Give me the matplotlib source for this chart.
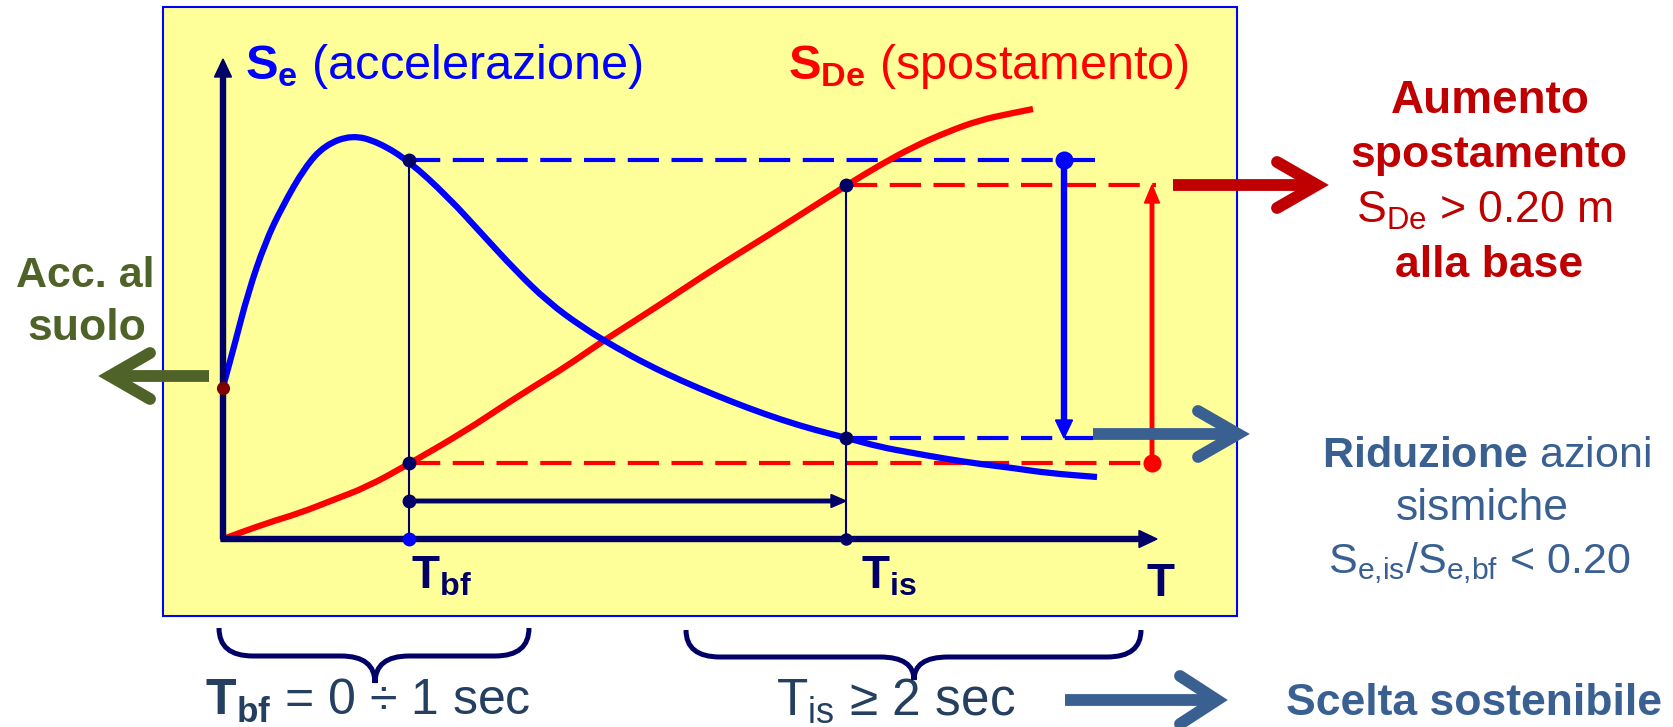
import matplotlib
matplotlib.use("Agg")
import matplotlib.pyplot as plt
from matplotlib.path import Path
from matplotlib.patches import PathPatch, Rectangle

plt.rcParams['font.family'] = 'Liberation Sans'
plt.rcParams['mathtext.fontset'] = 'custom'
plt.rcParams['mathtext.rm'] = 'Liberation Sans'
plt.rcParams['mathtext.bf'] = 'Liberation Sans:bold'
plt.rcParams['mathtext.it'] = 'Liberation Sans:italic'

# Spectra (pixel positions, y pointing down)
se_x = [223, 235, 248, 265, 282, 305, 325, 352, 378, 409, 448, 482, 515, 548,
        582, 615, 648, 682, 715, 748, 782, 815, 847, 880, 913, 947, 980, 1013,
        1047, 1097]
se_y = [387, 343, 293, 243, 207, 167, 145, 135, 142, 161, 197, 234, 270, 302,
        327, 347, 365, 381, 395, 408, 420, 430, 438, 447, 453, 459, 464, 468,
        473, 477]

sde_x = [223, 267, 300, 333, 367, 409, 467, 500, 533, 567, 600, 633, 667, 700,
         733, 767, 800, 847, 880, 913, 947, 980, 1013, 1033]
sde_y = [539, 523, 513, 500, 487, 464, 430, 408, 387, 366, 343, 322, 300, 278,
         257, 236, 215, 185, 165, 147, 132, 120, 113, 109]

# key periods and spectral ordinates
t_zero, t_bf, t_is, t_max = 223, 409, 846, 1157
s_zero, s_top = 539, 59
se_bf, se_is = 160, 438
sde_bf, sde_is = 463, 185
se_ground = 388
x_se_marker, x_sde_marker = 1064, 1152
x_arrow_row = 501

NAVY = '#000066'
BLUE = '#0000FF'
RED = '#FF0000'
DARKRED = '#C00000'
OLIVE = '#4F6228'
STEEL = '#3A6092'
SLATE = '#243F60'
YELLOW = '#FFFF99'

fig = plt.figure(figsize=(16.73, 7.27), dpi=100)
ax = fig.add_axes([0, 0, 1, 1])
ax.set_xlim(0, 1673)
ax.set_ylim(727, 0)
ax.axis('off')


def smooth_curve(xs, ys, color):
    # quadratic path through the read points (points used as control points)
    pts = list(zip(xs, ys))
    mids = [((a[0] + b[0]) / 2, (a[1] + b[1]) / 2) for a, b in zip(pts[:-1], pts[1:])]
    verts = [pts[0], mids[0]]
    codes = [Path.MOVETO, Path.LINETO]
    for p, m in zip(pts[1:-1], mids[1:]):
        verts += [p, m]
        codes += [Path.CURVE3, Path.CURVE3]
    verts.append(pts[-1])
    codes.append(Path.LINETO)
    ax.add_patch(PathPatch(Path(verts, codes), fill=False, edgecolor=color,
                           lw=4.5, capstyle='butt', zorder=3))


# yellow panel
ax.add_patch(Rectangle((163, 7), 1074, 609, facecolor=YELLOW, edgecolor=BLUE,
                       lw=1.5, zorder=0))

dash = dict(lw=3, dashes=(7.5, 3.0))
# reference lines
ax.plot([t_bf, 1095], [se_bf, se_bf], color=BLUE, zorder=2, **dash)
ax.plot([t_is, 1093], [se_is, se_is], color=BLUE, zorder=2, **dash)
ax.plot([t_bf, x_sde_marker], [sde_bf, sde_bf], color=RED, zorder=2, **dash)
ax.plot([t_is, 1156], [sde_is, sde_is], color=RED, zorder=2, **dash)
ax.plot([t_bf, t_bf], [se_bf, s_zero], color=NAVY, lw=1.5, zorder=2)
ax.plot([t_is, t_is], [sde_is, s_zero], color=NAVY, lw=1.5, zorder=2)

# spectra
smooth_curve(sde_x, sde_y, RED)
smooth_curve(se_x, se_y, BLUE)

# axes
ax.arrow(t_zero, s_zero, 0, s_top - s_zero, width=5, head_width=17,
         head_length=18, length_includes_head=True, color=NAVY, zorder=4)
ax.arrow(t_zero - 2, s_zero, t_max - t_zero + 2, 0, width=5, head_width=17,
         head_length=18, length_includes_head=True, color=NAVY, zorder=4)

# period shift and spectral changes
ax.arrow(t_bf, x_arrow_row, t_is - t_bf, 0, width=3.5, head_width=13,
         head_length=15, length_includes_head=True, color=NAVY, zorder=4)
ax.arrow(x_se_marker, se_bf, 0, se_is - se_bf, width=5, head_width=17,
         head_length=18, length_includes_head=True, color=BLUE, zorder=4)
ax.arrow(x_sde_marker, sde_bf, 0, sde_is - sde_bf, width=3.5, head_width=15,
         head_length=18, length_includes_head=True, color=RED, zorder=4)

# dots
dots = [(t_bf, se_bf, NAVY, 10), (t_bf, sde_bf, NAVY, 10),
        (t_bf, x_arrow_row, NAVY, 10), (t_bf, s_zero, BLUE, 10),
        (t_is, sde_is, NAVY, 10), (t_is, se_is, NAVY, 10),
        (t_is, s_zero, NAVY, 9), (x_se_marker, se_bf, BLUE, 13),
        (x_sde_marker, sde_bf, RED, 13), (t_zero, se_ground, '#800000', 9.5)]
for x, y, c, s in dots:
    ax.plot(x, y, 'o', color=c, ms=s, mec='none', zorder=5)


def chevron(x0, tip, y, color, dx=40, dy=23):
    d = 1 if tip > x0 else -1
    v = tip - d * 13
    ax.plot([x0, v], [y, y], color=color, lw=8.5, solid_capstyle='butt', zorder=6)
    ax.plot([v - d * dx, v, v - d * dx], [y - dy, y, y + dy], color=color,
            lw=8.5, solid_capstyle='round', solid_joinstyle='miter', zorder=6)


chevron(1173, 1330, sde_is, DARKRED)
chevron(209, 97, 376, OLIVE)
chevron(1093, 1251, 434, STEEL)
chevron(1065, 1230, 700, STEEL, dx=37, dy=24)


def brace(x0, x1, xm, top, mid, tip, r=34):
    verts = [(x0, top), (x0, mid), (x0 + r, mid), (xm - r, mid), (xm, mid),
             (xm, tip), (xm, mid), (xm + r, mid), (x1 - r, mid), (x1, mid),
             (x1, top)]
    codes = [Path.MOVETO, Path.CURVE3, Path.CURVE3, Path.LINETO, Path.CURVE3,
             Path.CURVE3, Path.CURVE3, Path.CURVE3, Path.LINETO, Path.CURVE3,
             Path.CURVE3]
    ax.add_patch(PathPatch(Path(verts, codes), fill=False, edgecolor=NAVY,
                           lw=3.6, capstyle='butt', zorder=4))


brace(219, 529, 375, 628, 656, 683)
brace(686, 1141, 914, 630, 657, 680)

# labels inside the panel
ax.text(245, 79, r'$\mathbf{S_e}$ (accelerazione)', color=BLUE, fontsize=35,
        va='baseline', ha='left')
ax.text(788, 79, r'$\mathbf{S_{De}}$ (spostamento)', color=RED, fontsize=35,
        va='baseline', ha='left')
ax.text(411, 588, r'$\mathbf{T_{bf}}$', color=NAVY, fontsize=33,
        va='baseline', ha='left')
ax.text(861, 588, r'$\mathbf{T_{is}}$', color=NAVY, fontsize=33,
        va='baseline', ha='left')
ax.text(1161, 596, 'T', color=NAVY, fontsize=33, fontweight='bold',
        va='baseline', ha='center')

# side notes
ax.text(85, 287, 'Acc. al', color=OLIVE, fontsize=31, fontweight='bold',
        va='baseline', ha='center')
ax.text(87, 340, 'suolo', color=OLIVE, fontsize=32, fontweight='bold',
        va='baseline', ha='center')

ax.text(1490, 113, 'Aumento', color=DARKRED, fontsize=33, fontweight='bold',
        va='baseline', ha='center')
ax.text(1489, 167, 'spostamento', color=DARKRED, fontsize=32, fontweight='bold',
        va='baseline', ha='center')
ax.text(1484, 223, r'$\mathrm{S_{De}}$ > 0.20 m', color=DARKRED, fontsize=32,
        va='baseline', ha='center')
ax.text(1489, 277, 'alla base', color=DARKRED, fontsize=32, fontweight='bold',
        va='baseline', ha='center')

ax.text(1486, 467, r'$\mathbf{Riduzione}$ azioni', color=STEEL, fontsize=31,
        va='baseline', ha='center')
ax.text(1482, 520, 'sismiche', color=STEEL, fontsize=32,
        va='baseline', ha='center')
ax.text(1479, 573, r'$\mathrm{S_{e{,}is}/S_{e{,}bf}}$ < 0.20', color=STEEL,
        fontsize=31, va='baseline', ha='center')

# bottom line
ax.text(205, 715, r'$\mathbf{T_{bf}}$ = 0 ÷ 1 sec', color=SLATE, fontsize=36,
        va='baseline', ha='left')
ax.text(776, 715, r'$\mathrm{T_{is}}$ ≥ 2 sec', color=SLATE, fontsize=37,
        va='baseline', ha='left')
ax.text(1286, 715, 'Scelta sostenibile', color=STEEL, fontsize=32,
        fontweight='bold', va='baseline', ha='left')

fig.savefig('out.png', dpi=100)
